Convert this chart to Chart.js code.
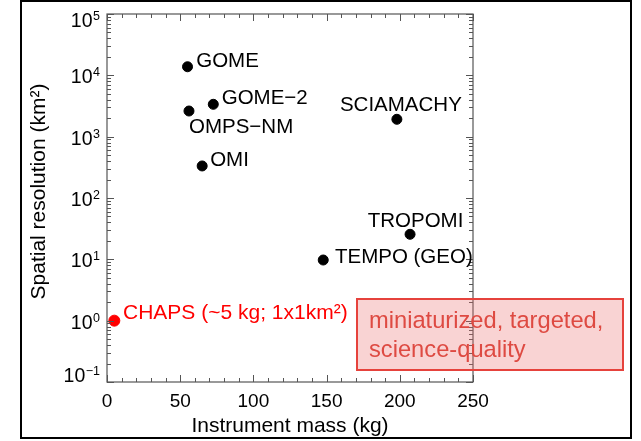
<!DOCTYPE html>
<html><head><meta charset="utf-8">
<script src="https://cdn.jsdelivr.net/npm/chart.js@4.4.1/dist/chart.umd.min.js"></script>
<style>html,body{margin:0;padding:0;background:#fff}#wrap{width:641px;height:441px;position:relative}</style>
</head><body><div id="wrap"><canvas id="c" width="641" height="441"></canvas></div>
<script>
// ---- data ----
const instruments = ['GOME', 'GOME\u22122', 'OMPS\u2212NM', 'OMI', 'SCIAMACHY', 'TROPOMI', 'TEMPO (GEO)'];
const massKg = [55, 72.6, 56, 65, 198, 207, 147.7];
const resolutionKm2 = [13800, 3370, 2620, 333, 1920, 25.6, 9.75];
const chapsName = ['CHAPS (~5 kg; 1x1km\u00b2)'];
const chapsMassKg = [5];
const chapsResolutionKm2 = [1];
const xTickValues = [0, 50, 100, 150, 200, 250];
const yTickExponents = [-1, 0, 1, 2, 3, 4, 5];
const noteLines = ['miniaturized, targeted,', 'science-quality'];
const xTitle = 'Instrument mass (kg)';
const yTitle = 'Spatial resolution (km\u00b2)';

// ---- style (label placement relative to each point, px) ----
const labelStyle = [[8.7, 0, 'left'], [8.4, 0, 'left'], [0, 22, 'left'], [8, 0, 'left'], [4, -8, 'center'], [5.5, -7, 'center'], [11.7, 3, 'left']];
const chapsStyle = [8.7, -2, 'left'];
const FONT = '"Liberation Sans", Arial, Helvetica, sans-serif';
const AXIS = '#555';

const deco = {
  id: 'deco',
  beforeDraw(chart) {
    const ctx = chart.ctx;
    ctx.save(); ctx.fillStyle = '#fff'; ctx.fillRect(0, 0, chart.width, chart.height); ctx.restore();
  },
  afterDraw(chart) {
    const ctx = chart.ctx, a = chart.chartArea, xs = chart.scales.x, ys = chart.scales.y;
    ctx.save();
    // axis box
    ctx.strokeStyle = AXIS; ctx.lineWidth = 1.2;
    ctx.strokeRect(a.left, a.top, a.right - a.left, a.bottom - a.top);
    // x ticks (bottom and top, inward)
    ctx.beginPath();
    for (let v = 0; v <= 250; v += 10) {
      const px = Math.round(xs.getPixelForValue(v)) + 0.5;
      const len = (v % 50 === 0) ? 7 : 4;
      ctx.moveTo(px, a.bottom); ctx.lineTo(px, a.bottom - len);
      ctx.moveTo(px, a.top); ctx.lineTo(px, a.top + len);
    }
    // y ticks (log, left and right, inward)
    for (let e = -1; e <= 5; e++) {
      for (let m = 1; m <= 9; m++) {
        if (e === 5 && m > 1) break;
        const py = Math.round(ys.getPixelForValue(m * Math.pow(10, e))) + 0.5;
        const len = (m === 1) ? 7 : 4;
        ctx.moveTo(a.left, py); ctx.lineTo(a.left + len, py);
        ctx.moveTo(a.right, py); ctx.lineTo(a.right - len, py);
      }
    }
    ctx.lineWidth = 1; ctx.stroke();

    // y tick labels 10^n
    ctx.fillStyle = '#000'; ctx.textBaseline = 'alphabetic';
    yTickExponents.forEach(e => {
      const py = ys.getPixelForValue(Math.pow(10, e));
      let base = py + 8;
      if (e === 5) base = py + 13;
      if (e === -1) base = py;
      const expStr = e < 0 ? '\u2212' + Math.abs(e) : String(e);
      ctx.font = '12.5px ' + FONT;
      const ew = ctx.measureText(expStr).width;
      const right = a.left - 7;
      ctx.textAlign = 'left';
      ctx.fillText(expStr, right - ew, base - 7);
      ctx.font = '19.5px ' + FONT;
      ctx.textAlign = 'right';
      ctx.fillText('10', right - ew - 0.5, base);
    });

    // axis titles
    ctx.font = '21px ' + FONT; ctx.textAlign = 'center';
    ctx.fillText(xTitle, (a.left + a.right) / 2, 432);
    ctx.save();
    ctx.translate(45, 191.5); ctx.rotate(-Math.PI / 2);
    ctx.fillText(yTitle, 0, 0);
    ctx.restore();

    // point labels
    const meta = chart.getDatasetMeta(0);
    ctx.font = '20.5px ' + FONT; ctx.fillStyle = '#000';
    meta.data.forEach((pt, i) => {
      const s = labelStyle[i];
      ctx.textAlign = s[2];
      ctx.fillText(instruments[i], pt.x + s[0], pt.y + s[1]);
    });
    const meta2 = chart.getDatasetMeta(1);
    ctx.font = '21px ' + FONT; ctx.fillStyle = '#ff0000';
    meta2.data.forEach((pt, i) => {
      ctx.textAlign = chapsStyle[2];
      ctx.fillText(chapsName[i], pt.x + chapsStyle[0], pt.y + chapsStyle[1]);
    });

    // note box
    ctx.fillStyle = 'rgba(235,110,110,0.3)';
    ctx.fillRect(357, 299, 266, 71);
    ctx.strokeStyle = '#e6423c'; ctx.lineWidth = 2;
    ctx.strokeRect(357, 299, 266, 71);
    ctx.fillStyle = '#de4a42'; ctx.font = '23.7px ' + FONT; ctx.textAlign = 'left';
    ctx.fillText(noteLines[0], 369, 328);
    ctx.fillText(noteLines[1], 369, 357);

    // outer frame
    ctx.strokeStyle = '#000'; ctx.lineWidth = 2;
    ctx.strokeRect(21, 1, 610, 437);
    ctx.restore();
  }
};

new Chart(document.getElementById('c'), {
  type: 'scatter',
  data: {
    datasets: [
      { label: 'Instruments', data: massKg.map((m, i) => ({ x: m, y: resolutionKm2[i] })),
        backgroundColor: '#000', borderColor: '#000', pointRadius: 5, pointHoverRadius: 5 },
      { label: 'CHAPS', data: chapsMassKg.map((m, i) => ({ x: m, y: chapsResolutionKm2[i] })),
        backgroundColor: '#ff0000', borderColor: '#ff0000', pointRadius: 5.5, pointHoverRadius: 5.5 }
    ]
  },
  options: {
    responsive: false, animation: false, devicePixelRatio: 1,
    layout: { padding: { left: 107, top: 14, right: 168, bottom: 0 } },
    plugins: { legend: { display: false }, tooltip: { enabled: false } },
    scales: {
      x: {
        type: 'linear', min: 0, max: 250,
        afterBuildTicks: s => { s.ticks = xTickValues.map(v => ({ value: v })); },
        ticks: { color: '#000', font: { size: 19, family: FONT }, padding: 8, maxRotation: 0 },
        grid: { display: false, drawTicks: false },
        border: { display: false },
        afterFit: s => { s.height = 59; }
      },
      y: {
        type: 'logarithmic', min: 0.1, max: 100000,
        ticks: { display: false },
        grid: { display: false, drawTicks: false },
        border: { display: false },
        afterFit: s => { s.width = 0; }
      }
    }
  },
  plugins: [deco]
});
</script>
</body></html>
